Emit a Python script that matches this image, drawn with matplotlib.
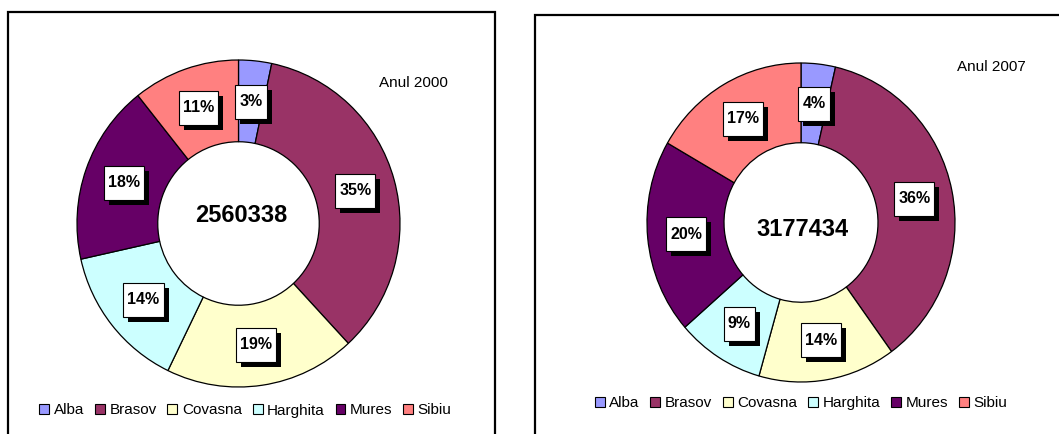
import numpy as np
import matplotlib
matplotlib.use("Agg")
import matplotlib.pyplot as plt
from matplotlib.patches import Rectangle, Patch

plt.rcParams['font.family'] = ['Liberation Sans', 'DejaVu Sans']

regions = ["Alba", "Brasov", "Covasna", "Harghita", "Mures", "Sibiu"]
colors = ["#9999FF", "#993366", "#FFFFCC", "#CCFFFF", "#660066", "#FF8080"]

# shares (%)
shares_2000 = [3.3, 34.8, 19.1, 14.3, 17.8, 10.7]
shares_2007 = [3.6, 36.4, 14.4, 9.2, 19.7, 16.7]
total_2000 = 2560338
total_2007 = 3177434
year_labels = ["Anul 2000", "Anul 2007"]

W, H = 1059, 434
fig = plt.figure(figsize=(W / 100, H / 100), dpi=100)


def px(x, y):
    # image pixel (top-left origin) -> figure fraction
    return x / W, 1 - y / H


# panel frames
for x0, y0, x1 in [(8, 12, 495), (535, 15, 1075)]:
    fig.add_artist(Rectangle((x0 / W, -0.05), (x1 - x0) / W, 1 - y0 / H + 0.05,
                             transform=fig.transFigure, fill=False,
                             edgecolor="black", linewidth=1.6, zorder=0.5))

panels = [
    dict(shares=shares_2000, total=total_2000, year=year_labels[0],
         cx=238.5, cy=223.5, rx=161.5, ry=163.5, num_xy=(241, 215),
         year_xy=(413, 83), leg_xy=(245.5, 410.5)),
    dict(shares=shares_2007, total=total_2007, year=year_labels[1],
         cx=801, cy=222.5, rx=154, ry=159.5, num_xy=(802, 229),
         year_xy=(991, 67), leg_xy=(801, 403)),
]

label_texts = []
for p in panels:
    l = (p["cx"] - p["rx"]) / W
    b = 1 - (p["cy"] + p["ry"]) / H
    ax = fig.add_axes([l, b, 2 * p["rx"] / W, 2 * p["ry"] / H])
    ax.pie(p["shares"], colors=colors, startangle=90, counterclock=False,
           radius=1, wedgeprops=dict(width=0.5, edgecolor="black", linewidth=0.9))
    ax.set_aspect("auto")
    ax.set_xlim(-1, 1)
    ax.set_ylim(-1, 1)
    ax.axis("off")

    cum = np.cumsum([0] + p["shares"][:-1])
    tot = sum(p["shares"])
    for v, c0 in zip(p["shares"], cum):
        th = np.deg2rad(90 - 360 * (c0 + v / 2) / tot)
        xd, yd = ax.transData.transform((0.75 * np.cos(th), 0.75 * np.sin(th)))
        t = fig.text(xd / W, yd / H, f"{round(v):.0f}%", ha="center", va="center",
                     fontsize=11.5, fontweight="bold", zorder=3)
        label_texts.append(t)

    fig.text(*px(*p["num_xy"]), str(p["total"]), ha="center", va="center",
             fontsize=17, fontweight="bold")
    fig.text(*px(*p["year_xy"]), p["year"], ha="center", va="center", fontsize=11)

    handles = [Patch(facecolor=c, edgecolor="black", linewidth=0.8) for c in colors]
    fig.legend(handles, regions, loc="center", bbox_to_anchor=px(*p["leg_xy"]),
               ncol=6, frameon=False, fontsize=11, handlelength=0.65,
               handleheight=0.65, handletextpad=0.3, columnspacing=0.7,
               borderaxespad=0, borderpad=0)

# white label boxes with a black drop shadow
fig.canvas.draw()
r = fig.canvas.get_renderer()
for t in label_texts:
    bb = t.get_window_extent(r)
    xc = (bb.x0 + bb.x1) / 2
    yc = (bb.y0 + bb.y1) / 2
    bw = bb.width + 8
    bh = 34
    fig.add_artist(Rectangle(((xc - bw / 2 + 5) / W, (yc - bh / 2 - 5) / H), bw / W, bh / H,
                             transform=fig.transFigure, facecolor="black",
                             edgecolor="none", zorder=1.5))
    fig.add_artist(Rectangle(((xc - bw / 2) / W, (yc - bh / 2) / H), bw / W, bh / H,
                             transform=fig.transFigure, facecolor="white",
                             edgecolor="black", linewidth=0.8, zorder=2))

fig.savefig("out.png", dpi=100)
